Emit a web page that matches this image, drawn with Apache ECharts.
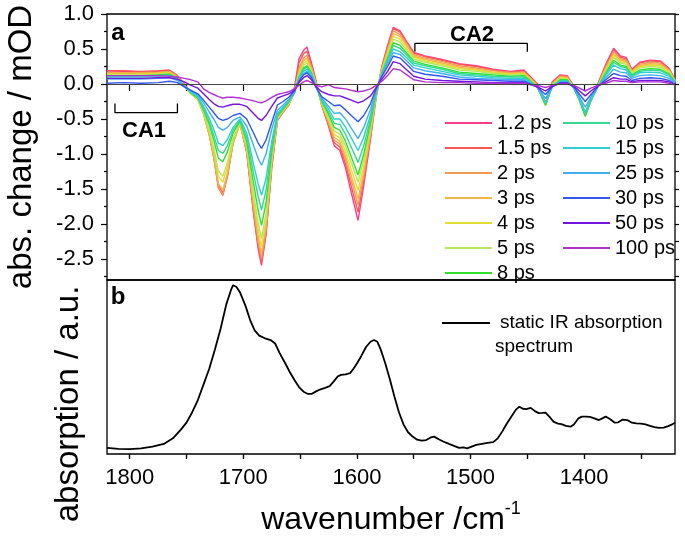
<!DOCTYPE html>
<html><head><meta charset="utf-8">
<script src="https://cdn.jsdelivr.net/npm/echarts@6/dist/echarts.min.js"></script>
<style>html,body{margin:0;padding:0;background:#fff}#c{width:685px;height:538px}</style>
</head><body><div id="c"></div>
<script>
// ---------- data ----------
const wavenumbers = [1820,1805,1790,1775,1765,1758,1752,1746,1740,1735,
  1730,1726,1722,1718,1714,1709,1703,1697,1691,1687,
  1684,1680,1675,1670,1665,1660,1655,1651,1647,1644,
  1640,1636,1631,1625,1620,1615,1610,1605,1599,1594,
  1588,1583,1578,1573,1568,1562,1556,1550,1540,1525,
  1510,1495,1480,1465,1453,1447,1441,1434,1428,1421,
  1415,1409,1404,1399,1394,1388,1381,1374,1368,1363,
  1358,1351,1342,1333,1325,1320];

const delays = ['1.2 ps','1.5 ps','2 ps','3 ps','4 ps','5 ps','8 ps','10 ps','15 ps','25 ps','30 ps','50 ps','100 ps'];
const colors = ['#ff3d8b','#fa5858','#f59a55','#f2b646','#e3dc32','#b6e85a','#2fe02f','#33d98f','#2fcfcf','#3fb0f5','#3355f0','#7414e0','#b033d0'];

const p1_2 = [0.17,0.18,0.17,0.18,0.19,0.12,0.00,-0.12,-0.20,-0.40,
  -0.70,-1.02,-1.45,-1.56,-1.30,-0.82,-0.55,-0.98,-1.85,-2.35,
  -2.59,-2.15,-1.20,-0.52,-0.40,-0.30,-0.05,0.36,0.48,0.53,
  0.30,0.05,-0.30,-0.60,-0.88,-0.95,-1.20,-1.55,-1.95,-1.45,
  -0.78,-0.18,0.25,0.55,0.81,0.76,0.60,0.45,0.40,0.35,
  0.29,0.26,0.21,0.18,0.20,0.10,0.00,-0.27,0.03,0.13,
  0.12,-0.03,-0.20,-0.42,-0.20,0.00,0.28,0.51,0.40,0.38,
  0.21,0.31,0.34,0.33,0.22,0.06];
const p1_5 = [0.19,0.19,0.18,0.19,0.20,0.12,-0.01,-0.13,-0.21,-0.42,
  -0.72,-1.05,-1.48,-1.59,-1.32,-0.84,-0.56,-0.97,-1.82,-2.30,
  -2.55,-2.12,-1.18,-0.52,-0.40,-0.30,-0.10,0.30,0.43,0.47,
  0.27,0.03,-0.30,-0.58,-0.84,-0.90,-1.14,-1.46,-1.83,-1.38,
  -0.75,-0.17,0.24,0.53,0.79,0.74,0.59,0.44,0.39,0.34,
  0.28,0.25,0.20,0.17,0.19,0.09,-0.01,-0.28,0.02,0.12,
  0.11,-0.04,-0.21,-0.43,-0.21,-0.01,0.26,0.49,0.38,0.36,
  0.20,0.30,0.33,0.32,0.21,0.06];
const p2 = [0.16,0.16,0.16,0.17,0.18,0.11,-0.02,-0.14,-0.22,-0.43,
  -0.73,-1.05,-1.47,-1.58,-1.31,-0.85,-0.57,-0.96,-1.78,-2.26,
  -2.50,-2.08,-1.15,-0.51,-0.40,-0.30,-0.12,0.22,0.37,0.41,
  0.24,0.02,-0.30,-0.56,-0.80,-0.86,-1.08,-1.38,-1.73,-1.32,
  -0.72,-0.17,0.22,0.50,0.76,0.71,0.57,0.42,0.37,0.32,
  0.26,0.23,0.19,0.16,0.17,0.08,-0.02,-0.29,0.01,0.11,
  0.10,-0.04,-0.22,-0.44,-0.22,-0.02,0.24,0.46,0.36,0.34,
  0.19,0.28,0.31,0.30,0.20,0.05];
const p3 = [0.15,0.15,0.15,0.16,0.17,0.10,-0.03,-0.14,-0.22,-0.43,
  -0.72,-1.02,-1.42,-1.52,-1.27,-0.84,-0.57,-0.94,-1.72,-2.18,
  -2.42,-2.02,-1.12,-0.50,-0.39,-0.29,-0.12,0.18,0.33,0.37,
  0.22,0.01,-0.29,-0.53,-0.76,-0.82,-1.03,-1.31,-1.64,-1.26,
  -0.69,-0.16,0.21,0.47,0.72,0.68,0.54,0.40,0.35,0.30,
  0.24,0.21,0.17,0.15,0.16,0.07,-0.03,-0.30,0.00,0.10,
  0.09,-0.05,-0.23,-0.45,-0.23,-0.03,0.22,0.43,0.34,0.32,
  0.18,0.26,0.29,0.28,0.19,0.05];
const p4 = [0.14,0.14,0.14,0.15,0.16,0.10,-0.03,-0.14,-0.22,-0.42,
  -0.68,-0.96,-1.32,-1.40,-1.18,-0.80,-0.56,-0.90,-1.64,-2.08,
  -2.32,-1.94,-1.08,-0.49,-0.38,-0.28,-0.12,0.15,0.30,0.33,
  0.20,0.00,-0.28,-0.50,-0.72,-0.77,-0.96,-1.22,-1.52,-1.17,
  -0.65,-0.15,0.20,0.44,0.68,0.64,0.51,0.38,0.33,0.28,
  0.22,0.20,0.16,0.14,0.15,0.06,-0.04,-0.31,-0.01,0.09,
  0.08,-0.05,-0.23,-0.45,-0.23,-0.03,0.20,0.41,0.32,0.30,
  0.17,0.25,0.27,0.26,0.18,0.04];
const p5 = [0.13,0.13,0.13,0.14,0.15,0.09,-0.03,-0.14,-0.21,-0.40,
  -0.65,-0.91,-1.24,-1.32,-1.12,-0.77,-0.55,-0.87,-1.56,-1.98,
  -2.21,-1.85,-1.04,-0.48,-0.37,-0.27,-0.12,0.13,0.27,0.30,
  0.18,-0.01,-0.27,-0.47,-0.67,-0.72,-0.89,-1.12,-1.40,-1.08,
  -0.60,-0.14,0.18,0.41,0.64,0.60,0.48,0.36,0.31,0.26,
  0.20,0.18,0.15,0.13,0.14,0.05,-0.04,-0.31,-0.02,0.08,
  0.07,-0.06,-0.24,-0.46,-0.24,-0.04,0.18,0.38,0.30,0.28,
  0.15,0.23,0.25,0.24,0.16,0.04];
const p8 = [0.12,0.12,0.12,0.13,0.14,0.08,-0.03,-0.13,-0.20,-0.37,
  -0.58,-0.80,-1.06,-1.11,-0.97,-0.70,-0.53,-0.82,-1.42,-1.80,
  -2.02,-1.70,-0.97,-0.46,-0.36,-0.26,-0.12,0.10,0.23,0.26,
  0.16,-0.02,-0.25,-0.43,-0.62,-0.66,-0.82,-1.04,-1.30,-1.00,
  -0.56,-0.13,0.16,0.37,0.59,0.55,0.44,0.33,0.28,0.23,
  0.17,0.15,0.13,0.11,0.12,0.04,-0.05,-0.30,-0.03,0.06,
  0.06,-0.06,-0.24,-0.46,-0.24,-0.04,0.16,0.34,0.27,0.25,
  0.13,0.20,0.22,0.21,0.14,0.03];
const p10 = [0.11,0.11,0.11,0.12,0.13,0.08,-0.03,-0.12,-0.19,-0.35,
  -0.54,-0.73,-0.95,-0.99,-0.88,-0.66,-0.52,-0.76,-1.28,-1.60,
  -1.80,-1.52,-0.90,-0.44,-0.35,-0.25,-0.12,0.09,0.21,0.24,
  0.15,-0.02,-0.24,-0.40,-0.56,-0.58,-0.72,-0.90,-1.12,-0.88,
  -0.50,-0.12,0.15,0.35,0.55,0.51,0.41,0.30,0.26,0.21,
  0.15,0.13,0.11,0.10,0.10,0.03,-0.05,-0.29,-0.03,0.05,
  0.05,-0.06,-0.23,-0.44,-0.23,-0.04,0.14,0.31,0.25,0.23,
  0.12,0.18,0.20,0.19,0.13,0.03];
const p15 = [0.10,0.10,0.10,0.11,0.12,0.07,-0.03,-0.11,-0.18,-0.32,
  -0.49,-0.65,-0.84,-0.88,-0.79,-0.62,-0.50,-0.70,-1.15,-1.42,
  -1.59,-1.35,-0.82,-0.42,-0.33,-0.24,-0.12,0.07,0.18,0.21,
  0.13,-0.03,-0.22,-0.36,-0.50,-0.50,-0.62,-0.77,-0.95,-0.76,
  -0.44,-0.10,0.14,0.32,0.50,0.46,0.37,0.27,0.23,0.18,
  0.13,0.11,0.09,0.08,0.08,0.02,-0.05,-0.27,-0.04,0.04,
  0.04,-0.06,-0.22,-0.40,-0.22,-0.04,0.12,0.27,0.22,0.20,
  0.10,0.16,0.17,0.16,0.11,0.03];
const p25 = [0.07,0.07,0.07,0.08,0.09,0.05,-0.03,-0.10,-0.16,-0.27,
  -0.40,-0.50,-0.62,-0.66,-0.62,-0.52,-0.47,-0.60,-0.88,-1.06,
  -1.16,-1.00,-0.65,-0.38,-0.30,-0.22,-0.12,0.05,0.15,0.18,
  0.11,-0.04,-0.20,-0.32,-0.42,-0.41,-0.50,-0.63,-0.78,-0.62,
  -0.36,-0.08,0.13,0.29,0.45,0.42,0.33,0.23,0.19,0.15,
  0.10,0.08,0.07,0.06,0.06,0.01,-0.05,-0.21,-0.04,0.03,
  0.03,-0.05,-0.19,-0.33,-0.19,-0.04,0.09,0.21,0.17,0.16,
  0.08,0.12,0.13,0.12,0.08,0.02];
const p30 = [0.01,0.02,0.01,0.02,0.04,0.02,-0.04,-0.09,-0.14,-0.23,
  -0.33,-0.41,-0.49,-0.52,-0.50,-0.45,-0.42,-0.50,-0.70,-0.84,
  -0.92,-0.80,-0.55,-0.30,-0.25,-0.19,-0.10,0.04,0.13,0.16,
  0.09,-0.05,-0.18,-0.25,-0.31,-0.30,-0.37,-0.45,-0.54,-0.45,
  -0.28,-0.06,0.11,0.25,0.40,0.37,0.28,0.18,0.14,0.11,
  0.07,0.06,0.05,0.04,0.04,0.00,-0.05,-0.15,-0.04,0.02,
  0.02,-0.04,-0.15,-0.25,-0.15,-0.04,0.06,0.15,0.12,0.11,
  0.05,0.08,0.09,0.08,0.05,0.00];
const p50 = [0.08,0.08,0.08,0.09,0.09,0.07,0.03,-0.02,-0.06,-0.14,
  -0.22,-0.28,-0.32,-0.33,-0.31,-0.29,-0.29,-0.32,-0.42,-0.49,
  -0.52,-0.45,-0.32,-0.20,-0.17,-0.14,-0.09,0.02,0.09,0.12,
  0.06,-0.04,-0.11,-0.15,-0.17,-0.17,-0.20,-0.23,-0.27,-0.24,
  -0.17,-0.05,0.07,0.18,0.32,0.29,0.20,0.11,0.07,0.05,
  0.04,0.03,0.02,0.02,0.02,-0.01,-0.04,-0.10,-0.03,0.01,
  0.01,-0.03,-0.10,-0.17,-0.10,-0.03,0.03,0.09,0.07,0.07,
  0.03,0.05,0.05,0.05,0.03,-0.01];
const p100 = [0.12,0.12,0.12,0.12,0.11,0.10,0.08,0.06,0.03,-0.07,
  -0.12,-0.15,-0.18,-0.20,-0.19,-0.19,-0.20,-0.22,-0.24,-0.26,
  -0.27,-0.24,-0.19,-0.15,-0.13,-0.11,-0.07,-0.02,0.03,0.05,
  0.02,-0.02,-0.04,-0.01,-0.05,-0.06,-0.07,-0.09,-0.11,-0.10,
  -0.07,-0.02,0.04,0.12,0.22,0.20,0.13,0.06,0.03,0.02,
  0.02,0.01,0.01,0.01,0.01,-0.01,-0.02,-0.05,-0.02,0.00,
  0.00,-0.02,-0.06,-0.10,-0.06,-0.02,0.01,0.05,0.04,0.04,
  0.02,0.03,0.03,0.03,0.01,-0.01];
const transientSpectra = [p1_2,p1_5,p2,p3,p4,p5,p8,p10,p15,p25,p30,p50,p100];

const staticWn = [1820,1810,1800,1790,1780,1770,1762,1755,1750,1745,
  1740,1735,1730,1725,1720,1715,1711,1709,1706,1703,
  1698,1694,1690,1686,1681,1676,1672,1668,1663,1659,
  1655,1651,1647,1643,1640,1636,1632,1628,1624,1620,
  1617,1614,1610,1606,1603,1600,1596,1592,1588,1585,
  1582,1579,1575,1571,1567,1563,1559,1555,1551,1547,
  1543,1539,1535,1532,1528,1524,1519,1514,1510,1506,
  1503,1499,1495,1490,1485,1480,1476,1472,1468,1464,
  1460,1457,1454,1451,1447,1443,1440,1437,1434,1430,
  1427,1423,1420,1416,1412,1409,1405,1402,1398,1395,
  1391,1387,1384,1381,1377,1373,1370,1366,1362,1358,
  1354,1350,1346,1342,1338,1334,1330,1326,1322,1320];
const staticAbs = [0.035,0.03,0.028,0.032,0.042,0.058,0.09,0.14,0.18,0.24,
  0.31,0.40,0.49,0.60,0.72,0.86,0.94,0.97,0.96,0.93,
  0.85,0.77,0.71,0.68,0.665,0.655,0.635,0.58,0.52,0.47,
  0.425,0.385,0.358,0.345,0.345,0.36,0.372,0.38,0.39,0.42,
  0.445,0.455,0.458,0.465,0.49,0.52,0.565,0.615,0.645,0.655,
  0.645,0.60,0.52,0.43,0.33,0.24,0.17,0.125,0.10,0.082,
  0.077,0.08,0.095,0.10,0.085,0.072,0.058,0.045,0.035,0.038,
  0.032,0.042,0.052,0.058,0.064,0.068,0.09,0.13,0.175,0.215,
  0.255,0.272,0.26,0.258,0.265,0.245,0.235,0.236,0.238,0.21,
  0.186,0.175,0.172,0.162,0.157,0.17,0.205,0.215,0.215,0.213,
  0.205,0.195,0.205,0.215,0.20,0.18,0.182,0.198,0.195,0.18,
  0.176,0.174,0.17,0.162,0.155,0.15,0.152,0.16,0.172,0.18];

const xTicks = [1350,1400,1450,1500,1550,1600,1650,1700,1750,1800];
const xTickLabels = [1400,1500,1600,1700,1800];
const yTickLabels = [-2.5,-2.0,-1.5,-1.0,-0.5,0.0,0.5,1.0];
const yMinorTicks = [-2.75,-2.25,-1.75,-1.25,-0.75,-0.25,0.25,0.75];
const yRightTicks = [-2.75,-2.5,-2.25,-2.0,-1.75,-1.5,-1.25,-1.0,-0.75,-0.5,-0.25,0,0.25,0.5,0.75,1.0];
const ca1Bracket = [[1813,-0.28],[1813,-0.41],[1758,-0.41],[1758,-0.28]];
const ca2Bracket = [[1549,0.46],[1549,0.58],[1450,0.58],[1450,0.46]];

// ---------- chart ----------
const FONT = "'Liberation Sans', Arial, Helvetica, sans-serif";
const XMIN = 1320, XMAX = 1820;
const chart = echarts.init(document.getElementById('c'), null, {renderer: 'canvas'});
const black = '#000';

const series = transientSpectra.map((arr, i) => ({
  name: delays[i], type: 'line', xAxisIndex: 0, yAxisIndex: 0,
  symbol: 'none', showSymbol: false, silent: true,
  lineStyle: {width: 1.4, color: colors[i]}, itemStyle: {color: colors[i]},
  data: wavenumbers.map((w, j) => [w, arr[j]]),
  z: 3
}));
series.unshift({
  name: 'zero', type: 'line', xAxisIndex: 0, yAxisIndex: 0, symbol: 'none', silent: true,
  data: [], z: 2,
  markLine: {silent: true, symbol: 'none', label: {show: false}, animation: false,
    lineStyle: {color: '#444', width: 1, type: 'solid'}, data: [{yAxis: 0}]}
});
series.push({name: 'CA1', type: 'line', xAxisIndex: 0, yAxisIndex: 0, symbol: 'none', silent: true,
  lineStyle: {color: black, width: 1.3}, data: ca1Bracket, z: 5});
series.push({name: 'CA2', type: 'line', xAxisIndex: 0, yAxisIndex: 0, symbol: 'none', silent: true,
  lineStyle: {color: black, width: 1.3}, data: ca2Bracket, z: 5});
series.push({name: 'static IR absorption', type: 'line', xAxisIndex: 2, yAxisIndex: 2,
  symbol: 'none', silent: true, lineStyle: {color: black, width: 1.8}, itemStyle: {color: black},
  data: staticWn.map((w, j) => [w, staticAbs[j]])});

const tickStyle = {color: black, width: 1.2};
const legendCommon = {orient: 'vertical', icon: 'rect', itemWidth: 47, itemHeight: 2, itemGap: 5, selectedMode: false,
  textStyle: {fontSize: 20, lineHeight: 20, color: black, fontFamily: FONT}};

chart.setOption({
  animation: false,
  backgroundColor: '#fff',
  grid: [
    {left: 107, top: 14, width: 568, height: 266, show: true, borderColor: black, borderWidth: 1.3},
    {left: 107, top: 280, width: 568, height: 174, show: true, borderColor: black, borderWidth: 1.3},
    {left: 107, top: 14, width: 568, height: 266}
  ],
  xAxis: [
    {gridIndex: 0, type: 'value', min: XMIN, max: XMAX, inverse: true, position: 'top',
      axisLine: {show: false}, splitLine: {show: false}, axisLabel: {show: false},
      axisTick: {show: true, inside: true, length: 7, customValues: xTicks, lineStyle: tickStyle}},
    {gridIndex: 1, type: 'value', min: XMIN, max: XMAX, inverse: true, position: 'top',
      axisLine: {show: false}, splitLine: {show: false}, axisLabel: {show: false},
      axisTick: {show: true, inside: true, length: 5, customValues: xTicks, lineStyle: tickStyle}},
    {gridIndex: 1, type: 'value', min: XMIN, max: XMAX, inverse: true, position: 'bottom',
      axisLine: {show: false}, splitLine: {show: false},
      axisTick: {show: true, inside: false, length: 5, customValues: xTicks, lineStyle: tickStyle},
      axisLabel: {show: true, customValues: xTickLabels, fontSize: 22, color: black, fontFamily: FONT, margin: 13,
        formatter: v => String(Math.round(v))},
      name: '{a|wavenumber /cm}{b|-1}', nameLocation: 'middle', nameGap: 46,
      nameTextStyle: {fontFamily: FONT, color: black,
        rich: {a: {fontSize: 32, lineHeight: 36, fontFamily: FONT, color: black, verticalAlign: 'bottom'},
               b: {fontSize: 18, lineHeight: 36, fontFamily: FONT, color: black, verticalAlign: 'top'}}}},
    {gridIndex: 2, type: 'value', min: XMIN, max: XMAX, inverse: true, show: false}
  ],
  yAxis: [
    {gridIndex: 0, type: 'value', min: -2.8, max: 1.0, position: 'left',
      axisLine: {show: false}, splitLine: {show: false},
      axisTick: {show: true, inside: false, length: 6, customValues: yTickLabels, lineStyle: tickStyle},
      axisLabel: {show: true, customValues: yTickLabels, fontSize: 22, color: black, fontFamily: FONT, margin: 13,
        formatter: v => Number(v).toFixed(1)}},
    {gridIndex: 0, type: 'value', min: -2.8, max: 1.0, position: 'right',
      axisLine: {show: false}, splitLine: {show: false}, axisLabel: {show: false},
      axisTick: {show: true, inside: false, length: 4, customValues: yRightTicks, lineStyle: tickStyle}},
    {gridIndex: 1, type: 'value', min: 0, max: 1, show: false},
    {gridIndex: 2, type: 'value', min: -2.8, max: 1.0, position: 'left',
      axisLine: {show: false}, splitLine: {show: false}, axisLabel: {show: false},
      axisTick: {show: true, inside: false, length: 3, customValues: yMinorTicks, lineStyle: tickStyle}}
  ],
  legend: [
    Object.assign({}, legendCommon, {data: delays.slice(0, 7), left: 440, top: 108}),
    Object.assign({}, legendCommon, {data: delays.slice(7), left: 558, top: 108}),
    {data: ['static IR absorption'], left: 437, top: 308, orient: 'vertical', icon: 'rect', itemWidth: 48, itemHeight: 2,
      selectedMode: false,
      textStyle: {fontSize: 19, lineHeight: 20, color: black, fontFamily: FONT, padding: [0, 0, 0, 5]}}
  ],
  graphic: [
    {type: 'text', x: 118, y: 33, z: 10, style: {text: 'a', fontSize: 24, fontWeight: 'bold', fontFamily: FONT, fill: black, align: 'center', verticalAlign: 'middle'}},
    {type: 'text', x: 118, y: 297, z: 10, style: {text: 'b', fontSize: 24, fontWeight: 'bold', fontFamily: FONT, fill: black, align: 'center', verticalAlign: 'middle'}},
    {type: 'text', x: 144, y: 131, z: 10, style: {text: 'CA1', fontSize: 22, fontWeight: 'bold', fontFamily: FONT, fill: black, align: 'center', verticalAlign: 'middle'}},
    {type: 'text', x: 472, y: 35, z: 10, style: {text: 'CA2', fontSize: 22, fontWeight: 'bold', fontFamily: FONT, fill: black, align: 'center', verticalAlign: 'middle'}},
    {type: 'text', x: 495, y: 347, z: 10, style: {text: 'spectrum', fontSize: 19, fontFamily: FONT, fill: black, align: 'left', verticalAlign: 'middle'}},
    {type: 'text', x: 22, y: 147, rotation: Math.PI / 2, z: 10, style: {text: 'abs. change / mOD', fontSize: 33, fontFamily: FONT, fill: black, align: 'center', verticalAlign: 'middle'}},
    {type: 'text', x: 69, y: 404, rotation: Math.PI / 2, z: 10, style: {text: 'absorption / a.u.', fontSize: 33, fontFamily: FONT, fill: black, align: 'center', verticalAlign: 'middle'}}
  ],
  series: series
});
</script></body></html>
